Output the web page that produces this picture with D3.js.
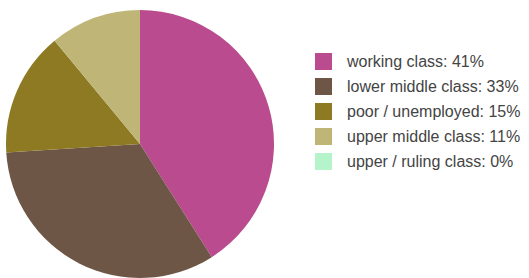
<!DOCTYPE html>
<html>
<head>
<meta charset="utf-8">
<script src="https://cdn.jsdelivr.net/npm/d3@7"></script>
<style>
  body { margin: 0; background: #fff; }
</style>
</head>
<body>
<svg id="chart" width="529" height="278"></svg>
<script>
// data
const categories = ["working class", "lower middle class", "poor / unemployed", "upper middle class", "upper / ruling class"];
const values = [41, 33, 15, 11, 0];
const colors = ["#BA4B8E", "#6E5646", "#8D7A23", "#BEB577", "#B5F3CB"];

const svg = d3.select("#chart");

// pie
const cx = 140, cy = 144, radius = 134;

const pie = d3.pie().sort(null).value(d => d)(values);
const arc = d3.arc().innerRadius(0).outerRadius(radius);

const g = svg.append("g").attr("transform", `translate(${cx},${cy})`);

g.selectAll("path")
    .data(pie)
    .enter()
    .append("path")
    .attr("d", arc)
    .attr("fill", (d, i) => colors[i]);

// legend
const legendY = d3.scaleBand()
    .domain(categories)
    .range([49, 174]);

const legend = svg.append("g");

legend.selectAll("rect")
    .data(categories)
    .enter()
    .append("rect")
    .attr("x", 315)
    .attr("y", d => legendY(d) + (legendY.bandwidth() - 17) / 2)
    .attr("width", 17)
    .attr("height", 17)
    .attr("fill", (d, i) => colors[i]);

legend.selectAll("text")
    .data(categories)
    .enter()
    .append("text")
    .attr("x", 347)
    .attr("y", d => legendY(d) + legendY.bandwidth() / 2)
    .attr("dy", "0.35em")
    .attr("font-family", "Liberation Sans, Arial, sans-serif")
    .attr("font-size", "16px")
    .attr("fill", "#444")
    .text((d, i) => `${d}: ${values[i]}%`);
</script>
</body>
</html>
